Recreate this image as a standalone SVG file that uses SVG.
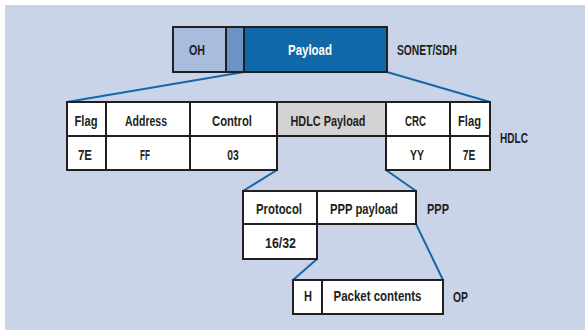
<svg xmlns="http://www.w3.org/2000/svg" width="585" height="330" viewBox="0 0 585 330">
<style>
.cell{stroke:#231f20;stroke-width:2;fill:#ffffff}
.t{font-family:"Liberation Sans",Arial,sans-serif;font-weight:bold;font-size:14px;fill:#231f20;text-anchor:middle}
.lbl{font-family:"Liberation Sans",Arial,sans-serif;font-weight:bold;font-size:14px;fill:#231f20}
.conn{stroke:#1468a8;stroke-width:2;fill:none}
</style>
<rect x="5" y="5" width="580" height="325" fill="#c9d4e8"/>
<g id="connectors">
<line class="conn" x1="244" y1="72" x2="67" y2="102"/>
<line class="conn" x1="387" y1="72" x2="490" y2="102"/>
<line class="conn" x1="277" y1="170" x2="243" y2="191"/>
<line class="conn" x1="386" y1="170" x2="416" y2="191"/>
<line class="conn" x1="317" y1="259" x2="293" y2="280"/>
<line class="conn" x1="416" y1="224" x2="443" y2="280"/>
</g>
<g id="sonet">
<rect class="cell" x="173" y="27" width="53" height="45" style="fill:#a9bcdd"/>
<rect class="cell" x="226" y="27" width="18" height="45" style="fill:#6b93c4"/>
<rect class="cell" x="244" y="27" width="143" height="45" style="fill:#0f68a8"/>
<text class="t" x="197" y="55" textLength="16" lengthAdjust="spacingAndGlyphs">OH</text>
<text class="t" x="310" y="54.5" textLength="44" lengthAdjust="spacingAndGlyphs" style="fill:#ffffff">Payload</text>
<text class="lbl" x="397" y="55" textLength="60" lengthAdjust="spacingAndGlyphs">SONET/SDH</text>
</g>
<g id="hdlc">
<rect class="cell" x="67" y="102" width="39" height="34"/>
<rect class="cell" x="106" y="102" width="84" height="34"/>
<rect class="cell" x="190" y="102" width="87" height="34"/>
<rect class="cell" x="277" y="102" width="109" height="34" style="fill:#d3d3d3"/>
<rect class="cell" x="386" y="102" width="64" height="34"/>
<rect class="cell" x="450" y="102" width="40" height="34"/>
<rect class="cell" x="67" y="136" width="39" height="34"/>
<rect class="cell" x="106" y="136" width="84" height="34"/>
<rect class="cell" x="190" y="136" width="87" height="34"/>
<rect class="cell" x="386" y="136" width="64" height="34"/>
<rect class="cell" x="450" y="136" width="40" height="34"/>
<text class="t" x="86" y="125.5" textLength="23" lengthAdjust="spacingAndGlyphs">Flag</text>
<text class="t" x="146" y="125.5" textLength="42" lengthAdjust="spacingAndGlyphs">Address</text>
<text class="t" x="232" y="125.5" textLength="40" lengthAdjust="spacingAndGlyphs">Control</text>
<text class="t" x="328" y="125.5" textLength="75" lengthAdjust="spacingAndGlyphs">HDLC Payload</text>
<text class="t" x="415.5" y="125.5" textLength="21" lengthAdjust="spacingAndGlyphs">CRC</text>
<text class="t" x="469.5" y="125.5" textLength="23" lengthAdjust="spacingAndGlyphs">Flag</text>
<text class="t" x="85" y="160" textLength="14" lengthAdjust="spacingAndGlyphs">7E</text>
<text class="t" x="145" y="160" textLength="10" lengthAdjust="spacingAndGlyphs">FF</text>
<text class="t" x="233" y="160" textLength="11.5" lengthAdjust="spacingAndGlyphs">03</text>
<text class="t" x="417" y="160" textLength="14" lengthAdjust="spacingAndGlyphs">YY</text>
<text class="t" x="469" y="160" textLength="12.5" lengthAdjust="spacingAndGlyphs">7E</text>
<text class="lbl" x="500" y="142.5" textLength="28" lengthAdjust="spacingAndGlyphs">HDLC</text>
</g>
<g id="ppp">
<rect class="cell" x="243" y="191" width="74" height="33"/>
<rect class="cell" x="317" y="191" width="99" height="33"/>
<rect class="cell" x="243" y="224" width="74" height="35"/>
<text class="t" x="279" y="214" textLength="46" lengthAdjust="spacingAndGlyphs">Protocol</text>
<text class="t" x="364" y="214" textLength="68" lengthAdjust="spacingAndGlyphs">PPP payload</text>
<text class="t" x="280.5" y="248" textLength="31" lengthAdjust="spacingAndGlyphs">16/32</text>
<text class="lbl" x="427" y="214" textLength="22" lengthAdjust="spacingAndGlyphs">PPP</text>
</g>
<g id="op">
<rect class="cell" x="293" y="280" width="29" height="34"/>
<rect class="cell" x="322" y="280" width="121" height="34"/>
<text class="t" x="308" y="301" textLength="8" lengthAdjust="spacingAndGlyphs">H</text>
<text class="t" x="377.5" y="301" textLength="88" lengthAdjust="spacingAndGlyphs">Packet contents</text>
<text class="lbl" x="453" y="301.5" textLength="15" lengthAdjust="spacingAndGlyphs">OP</text>
</g>
</svg>
